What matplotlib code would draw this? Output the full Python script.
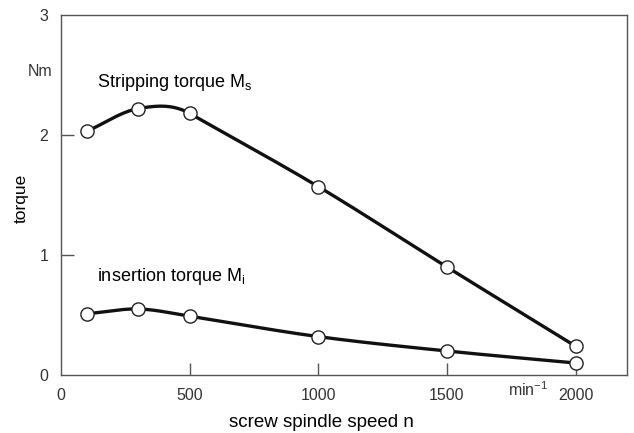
import numpy as np
import matplotlib.pyplot as plt

plt.rcParams['font.family'] = ['Liberation Sans', 'DejaVu Sans']
plt.rcParams['mathtext.fontset'] = 'custom'
plt.rcParams['mathtext.rm'] = 'Liberation Sans'

speed = [100, 300, 500, 1000, 1500, 2000]
stripping = [2.03, 2.22, 2.18, 1.57, 0.90, 0.24]
insertion = [0.51, 0.55, 0.49, 0.32, 0.20, 0.10]
x_ticks = [0, 500, 1000, 1500, 2000]
y_ticks = [0, 1, 2, 3]


def smooth(x, y, n=40):
    # cubic Hermite through the points, tangent from the longer neighbour segment
    x = np.asarray(x, float)
    y = np.asarray(y, float)
    h = np.diff(x)
    sec = np.diff(y) / h
    m = np.empty_like(y)
    m[0], m[-1] = sec[0], sec[-1]
    for i in range(1, len(x) - 1):
        if h[i] > h[i - 1]:
            m[i] = sec[i]
        elif h[i] < h[i - 1]:
            m[i] = sec[i - 1]
        else:
            m[i] = (sec[i] + sec[i - 1]) / 2
    xs, ys = [], []
    t = np.linspace(0, 1, n)
    h00 = 2 * t**3 - 3 * t**2 + 1
    h10 = t**3 - 2 * t**2 + t
    h01 = -2 * t**3 + 3 * t**2
    h11 = t**3 - t**2
    for i in range(len(x) - 1):
        xs.append(x[i] + t * h[i])
        ys.append(h00 * y[i] + h10 * h[i] * m[i] + h01 * y[i + 1] + h11 * h[i] * m[i + 1])
    return np.concatenate(xs), np.concatenate(ys)


fig = plt.figure(figsize=(6.34, 4.33), dpi=100)
ax = fig.add_axes([61 / 634, 58 / 433, 566 / 634, 360 / 433])

for ys in (stripping, insertion):
    sx, sy = smooth(speed, ys)
    ax.plot(sx, sy, color='#111111', lw=2.4, zorder=2)
    ax.plot(speed, ys, 'o', ms=9.5, mfc='white', mec='#222222', mew=1.0, zorder=3)

ax.set_xlim(0, 2200)
ax.set_ylim(0, 3)
ax.set_xticks(x_ticks)
ax.set_yticks(y_ticks)
ax.tick_params(direction='in', length=9, width=1, color='#555555',
               labelsize=11.5, labelcolor='#333333')
ax.tick_params(axis='y', pad=9)
ax.tick_params(axis='x', pad=9)
# no tick marks at the corners
ax.xaxis.get_major_ticks()[0].tick1line.set_visible(False)
ax.yaxis.get_major_ticks()[0].tick1line.set_visible(False)
ax.yaxis.get_major_ticks()[-1].tick1line.set_visible(False)
for s in ax.spines.values():
    s.set_color('#555555')
    s.set_linewidth(1)

ax.set_xlabel('screw spindle speed n', fontsize=13.5, va='center')
ax.xaxis.set_label_coords(0.46, -0.133)
ax.set_ylabel('torque', fontsize=12.5, va='center')
ax.yaxis.set_label_coords(-0.071, 0.49)

ax.text(-0.016, 2.53, 'Nm', transform=ax.get_yaxis_transform(), ha='right',
        va='center', fontsize=11.5, color='#333333')
ax.text(1815, -0.12, r'min$^{-1}$', ha='center', va='center', fontsize=11.5,
        color='#333333')
ax.text(140, 2.44, r'Stripping torque M$_\mathrm{s}$', fontsize=13, va='center')
ax.text(140, 0.82, r'insertion torque M$_\mathrm{i}$', fontsize=13, va='center')

fig.savefig('out.png', dpi=100)
